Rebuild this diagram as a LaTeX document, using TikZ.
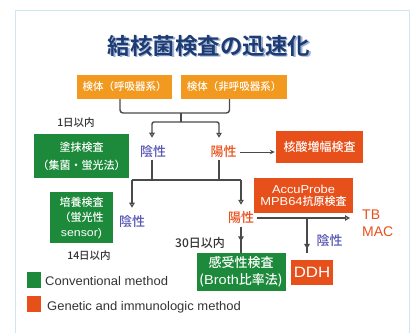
\documentclass[tikz,border=0pt]{standalone}
\usepackage{fontspec}
\setmainfont{Liberation Sans}
\newfontfamily\jp{Noto Sans CJK JP Medium}[BoldFont={Noto Sans CJK JP Bold}]
\newfontfamily\legfont{Liberation Sans}[FakeStretch=1.12]
\newfontfamily\legendfont{Liberation Sans}[FakeStretch=1.04]
\usetikzlibrary{arrows.meta,decorations.markings}
\definecolor{frameblue}{HTML}{CFE5F4}
\definecolor{titleblue}{HTML}{1F3B73}
\definecolor{titleshadow}{HTML}{9DB3D3}
\definecolor{specorange}{HTML}{F29A1F}
\definecolor{genred}{HTML}{E8501B}
\definecolor{convgreen}{HTML}{1C8A3A}
\definecolor{negblue}{HTML}{5656B4}
\definecolor{linegray}{HTML}{4A4A4A}
\definecolor{labelgray}{HTML}{333333}
\begin{document}
\begin{tikzpicture}[x=1pt,y=-1pt,
  box/.style={inner sep=0pt, text=white, align=center},
  specbox/.style={box, fill=specorange, minimum width=#1, minimum height=24pt,
    font=\jp\fontsize{10.5}{12}\selectfont},
  genbox/.style={box, fill=genred},
  convbox/.style={box, fill=convgreen},
  neglabel/.style={inner sep=0pt, text=negblue, font=\jp\fontsize{13}{13}\selectfont},
  poslabel/.style={inner sep=0pt, text=genred, font=\jp\fontsize{13}{13}\selectfont},
  daylabel/.style={inner sep=0pt, text=labelgray},
  conn/.style={draw=linegray, line width=1.4pt},
  openarrow/.style={-{Triangle[open, length=5pt, width=5.5pt, line width=1.2pt]}},
  midarrow/.style={postaction={decorate}, decoration={markings,
    mark=at position #1 with {\arrow{Triangle[open, length=5pt, width=5.5pt, line width=1.2pt]}}}},
  legtext/.style={inner sep=0pt, anchor=west, text=labelgray, font=\legendfont\fontsize{12.5}{13}\selectfont}
]
\useasboundingbox (0,0) rectangle (412,332);
\draw[frameblue, line width=1pt] (15,333) -- (15,10) -- (409,10) -- (409,333);

% title
\node[inner sep=0pt, text=titleshadow, font=\jp\bfseries\fontsize{22.5}{22.5}\selectfont] (titlesh) at (210.5,47.5) {結核菌検査の迅速化};
\node[inner sep=0pt, text=titleblue, font=\jp\bfseries\fontsize{22.5}{22.5}\selectfont] (title) at (209,46) {結核菌検査の迅速化};

% specimen boxes
\node[specbox=95pt] (s1) at (124.5,87) {検体（呼吸器系）};
\node[specbox=106pt] (s2) at (234,87) {検体（非呼吸器系）};

\coordinate (j1) at (181,113);
\coordinate (j2) at (181,122);
\draw[conn, rounded corners=3pt] ([xshift=-4.5pt]s1.south) |- (j1) -| ([xshift=-4.5pt]s2.south);
\draw[conn] (j1) -- (j2);

% first level
\node[neglabel] (neg1) at (153,152) {陰性};
\node[poslabel] (pos1) at (223.5,152) {陽性};
\draw[conn, openarrow, rounded corners=2pt, shorten >=8pt] (j2) -| ([xshift=-1pt]neg1.north);
\draw[conn, openarrow, rounded corners=2pt, shorten >=8pt] (j2) -| ([xshift=-4.5pt]pos1.north);

\node[genbox, minimum width=87pt, minimum height=32pt, font=\jp\fontsize{12}{12}\selectfont] (nab) at (319.5,147) {核酸増幅検査};
\draw[conn, -{Stealth[length=5pt, width=4.5pt]}, line width=1pt, shorten <=3.5pt, shorten >=1pt] (pos1.east) -- (pos1.east -| nab.west);

\node[convbox, minimum width=95pt, minimum height=44pt, font=\jp\fontsize{11}{18}\selectfont] (smear) at (81.5,156) {塗抹検査\\（集菌・蛍光法）};
\node[daylabel, font=\jp\fontsize{10.5}{11}\selectfont] (d1) at (76,123) {1日以内};

% second level
\coordinate (j3l) at (132,180);
\coordinate (j3r) at (241,180);
\draw[conn] (j3l) -- (j3r);
\draw[conn, shorten <=2pt] ([xshift=-1pt]neg1.south) -- ([xshift=-1pt]neg1.south |- j3l);
\draw[conn, shorten <=2pt] ([xshift=-4.5pt]pos1.south) -- ([xshift=-4.5pt]pos1.south |- j3r);

\node[neglabel] (neg2) at (132,222) {陰性};
\node[poslabel] (pos2) at (241,218) {陽性};
\draw[conn, openarrow, shorten >=8pt] (j3l) -- (j3l |- neg2.north);
\draw[conn, openarrow, shorten >=7pt] (j3r) -- (j3r |- pos2.north);

\node[convbox, minimum width=63pt, minimum height=51pt, font=\jp\fontsize{11}{15}\selectfont] (cult) at (81.5,217.5) {培養検査\\（蛍光性\\{\legfont sensor)}};
\node[daylabel, font=\jp\fontsize{10.5}{11}\selectfont] (d14) at (89,256) {14日以内};

\node[genbox, minimum width=99pt, minimum height=35pt, font=\legfont\fontsize{11.5}{12}\selectfont] (accu) at (303.5,195.5) {AccuProbe\\MPB64{\jp\fontsize{11}{12}\selectfont 抗原検査}};

\node[inner sep=0pt, anchor=west, align=left, text=genred, font=\fontsize{14}{17}\selectfont] (tbmac) at (362,223.5) {TB\\MAC};
\draw[conn, openarrow, shorten <=2.5pt, shorten >=12pt] (pos2.east) -- (pos2.east -| tbmac.west);

% third level
\node[genbox, minimum width=42pt, minimum height=25pt, font=\legfont\fontsize{15}{15}\selectfont] (ddh) at (312,272) {DDH};
\node[neglabel] (neg3) at (329.5,241) {陰性};
\coordinate (j4) at (307,218);
\draw[conn, midarrow=0.75, shorten >=6pt] (j4) -- (j4 |- ddh.north);

\node[convbox, minimum width=89pt, minimum height=38pt, font=\jp\fontsize{13}{17}\selectfont] (sus) at (241,272) {感受性検査\\({\legfont Broth}比率法)};
\draw[conn, midarrow=0.6, shorten <=3pt] (pos2.south) -- (pos2.south |- sus.north);
\node[daylabel, font=\jp\fontsize{12}{12}\selectfont] (d30) at (200,243) {30日以内};

% legend
\node[fill=convgreen, inner sep=0pt, minimum width=14pt, minimum height=16pt] (lg) at (34,280) {};
\node[legtext] (lgt) at (45,281) {Conventional method};
\node[fill=genred, inner sep=0pt, minimum width=14pt, minimum height=16pt] (lo) at (34,304) {};
\node[legtext] (lot) at (47,307) {Genetic and immunologic method};
\end{tikzpicture}
\end{document}
